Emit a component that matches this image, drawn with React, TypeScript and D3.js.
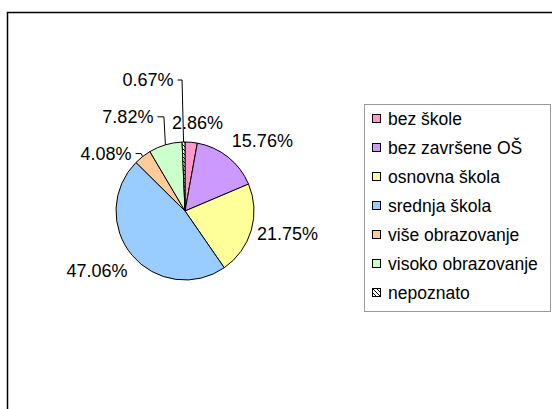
import React from 'react';
import * as d3 from 'd3';

const categories = [
  'bez škole',
  'bez završene OŠ',
  'osnovna škola',
  'srednja škola',
  'više obrazovanje',
  'visoko obrazovanje',
  'nepoznato',
];
const values = [2.86, 15.76, 21.75, 47.06, 4.08, 7.82, 0.67];
const colors = ['#FF99CC', '#CC99FF', '#FFFF99', '#99CCFF', '#FFCC99', '#CCFFCC', 'url(#hatch)'];

// layout: labels moved away from their slice with a leader line (offset from slice edge point)
const leaderOffsets: Record<string, [number, number]> = {
  nepoznato: [-10, -62],
  'visoko obrazovanje': [-12, -28],
  'više obrazovanje': [-11, -3],
};

const W = 552;
const H = 409;
const FONT = '"Liberation Sans", Arial, sans-serif';

const charW = (ch: string) => (ch === '.' ? 0.278 : ch === '%' ? 0.889 : 0.556);
const textWidth = (t: string, fs: number) => t.split('').reduce((acc, ch) => acc + charW(ch), 0) * fs;

export default function App() {
  const cx = 185;
  const cy = 211;
  const r = 69;
  const labelFs = 18;
  const legendFs = 17.5;

  const pie = d3.pie<number>().sort(null).value((d) => d);
  const arcs = pie(values);
  const arcGen = d3.arc<d3.PieArcDatum<number>>().innerRadius(0).outerRadius(r);
  const fmt = (v: number) => v.toFixed(2) + '%';

  const labelEls: React.ReactNode[] = [];
  arcs.forEach((a, i) => {
    const mid = (a.startAngle + a.endAngle) / 2;
    const s = Math.sin(mid);
    const c = Math.cos(mid);
    const cat = categories[i];
    const text = fmt(values[i]);
    const off = leaderOffsets[cat];
    if (off) {
      const ex = cx + r * s;
      const ey = cy - r * c;
      const lx = ex + off[0];
      const ly = ey + off[1];
      const pts: [number, number][] = [
        [lx + 4, ly],
        [ex - 1.5, ly],
        [ex, ey],
      ];
      labelEls.push(
        <g key={cat}>
          <path d={d3.line()(pts) || ''} fill="none" stroke="#000" strokeWidth={1} />
          <text x={lx} y={ly + 0.36 * labelFs} textAnchor="end" fontSize={labelFs} fontFamily={FONT} fill="#000">
            {text}
          </text>
        </g>
      );
    } else {
      const Rh = r + 6;
      const Rv = r + 13;
      const px = cx + Rh * s;
      const py = cy - Rv * c;
      const w = textWidth(text, labelFs);
      const k = Math.max(-1, Math.min(1, s / 0.4));
      const xCenter = px + (w / 2) * k;
      let by: number;
      if (c > 0.35) by = py;
      else if (c < -0.35) by = py + 0.72 * labelFs;
      else by = py + 0.36 * labelFs;
      labelEls.push(
        <text key={cat} x={xCenter} y={by} textAnchor="middle" fontSize={labelFs} fontFamily={FONT} fill="#000">
          {text}
        </text>
      );
    }
  });

  const legX = 364;
  const legY = 104;
  const legW = 186;
  const legH = 207;
  const itemY0 = 119;
  const itemStep = 29;
  const sw = 9;

  return (
    <svg
      width={W}
      height={H}
      style={{ position: 'absolute', left: 0, top: 0, background: '#fff' }}
    >
      <defs>
        <pattern id="hatch" patternUnits="userSpaceOnUse" width={4} height={4}>
          <rect width={4} height={4} fill="#fff" />
          <path d="M-1,-1 L5,5" stroke="#000" strokeWidth={1} />
        </pattern>
      </defs>
      <rect x={0} y={0} width={W} height={H} fill="#fff" />
      <rect x={7.5} y={12.5} width={W + 20} height={H + 20} fill="none" stroke="#000" strokeWidth={1.5} />
      <g transform={`translate(${cx},${cy})`}>
        {arcs.map((a, i) => (
          <path key={categories[i]} d={arcGen(a) || ''} fill={colors[i]} stroke="#000" strokeWidth={1} />
        ))}
      </g>
      {labelEls}
      <rect x={legX + 0.5} y={legY + 0.5} width={legW} height={legH} fill="#fff" stroke="#999" strokeWidth={1} />
      {categories.map((cat, i) => {
        const yc = itemY0 + i * itemStep;
        return (
          <g key={cat}>
            <rect x={372.5} y={yc - sw / 2} width={sw - 1} height={sw - 1} fill={colors[i]} stroke="#000" strokeWidth={1} />
            <text x={388} y={yc + 0.36 * legendFs} fontSize={legendFs} fontFamily={FONT} fill="#000">
              {cat}
            </text>
          </g>
        );
      })}
    </svg>
  );
}
